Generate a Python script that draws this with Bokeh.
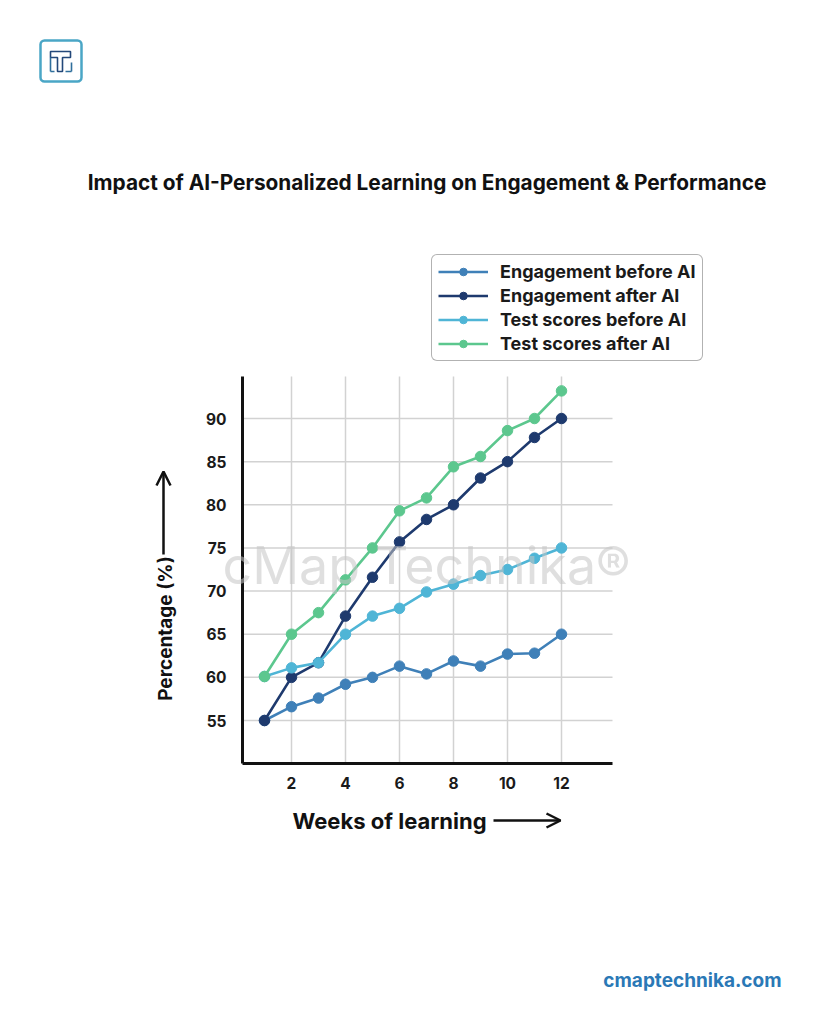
import math
from bokeh.plotting import figure
from bokeh.models import (Range1d, FixedTicker, Legend, LegendItem, Label, Arrow,
                          OpenHead, BoxAnnotation, PolyAnnotation, LinearAxis)
from bokeh.embed import file_html
from bokeh.resources import INLINE

# ---------------- data ----------------
weeks = [1, 2, 3, 4, 5, 6, 7, 8, 9, 10, 11, 12]
engagement_before = [55, 56.6, 57.6, 59.2, 60, 61.3, 60.4, 61.9, 61.3, 62.7, 62.8, 65]
engagement_after = [55, 60, 61.7, 67.1, 71.6, 75.7, 78.3, 80, 83.1, 85, 87.8, 90]
test_before = [60.1, 61.1, 61.7, 65, 67.1, 68, 69.9, 70.8, 71.8, 72.5, 73.8, 75]
test_after = [60.1, 65, 67.5, 71.3, 75, 79.3, 80.8, 84.4, 85.6, 88.6, 90, 93.2]

series_names = ["Engagement before AI", "Engagement after AI",
                "Test scores before AI", "Test scores after AI"]
series_values = [engagement_before, engagement_after, test_before, test_after]
series_colors = ["#3f80b8", "#1e3a6e", "#4fb5d6", "#5cc78e"]

x_ticks = [2, 4, 6, 8, 10, 12]
y_ticks = [55, 60, 65, 70, 75, 80, 85, 90]

title_text = "Impact  of AI-Personalized Learning on Engagement & Performance"
x_label = "Weeks of learning"
y_label = "Percentage (%)"
watermark = "cMap Technika\u00ae"
footer = "cmaptechnika.com"

FONT = "Inter"

# ---------------- layout geometry (pixels on the page) ----------------
W, H = 810, 1008
PX_PER_WEEK = 27.0
X2_PX = 291.0                      # pixel of week 2
PX_PER_PCT = 302.0 / 35.0          # 55 -> 720px, 90 -> 418px
Y55_PX = 720.0

def wk(px):      # page pixel -> week value
    return 2 + (px - X2_PX) / PX_PER_WEEK

def pct(py):     # page pixel -> percentage value
    return 55 + (Y55_PX - py) / PX_PER_PCT

x_lo, x_hi = wk(242), wk(612)      # chart box (axes extent)
y_lo, y_hi = pct(763), pct(376)

p = figure(width=W, height=H, output_backend="svg", toolbar_location=None,
           x_range=Range1d(wk(0), wk(W)), y_range=Range1d(pct(H), pct(0)),
           x_axis_location=None, y_axis_location=None,
           min_border_left=0, min_border_right=0, min_border_top=0, min_border_bottom=0)
p.outline_line_color = None
p.background_fill_color = "white"
p.border_fill_color = "white"
p.xgrid.visible = False
p.ygrid.visible = False

# axes drawn at fixed locations around the chart box
xaxis = LinearAxis(ticker=FixedTicker(ticks=x_ticks), fixed_location=y_lo, bounds=(x_lo, x_hi))
yaxis = LinearAxis(ticker=FixedTicker(ticks=y_ticks), fixed_location=x_lo, bounds=(y_lo, y_hi))
for ax in (xaxis, yaxis):
    ax.axis_line_width = 3
    ax.axis_line_color = "#111111"
    ax.major_tick_line_color = None
    ax.minor_tick_line_color = None
    ax.major_label_text_font = FONT
    ax.major_label_text_font_style = "bold"
    ax.major_label_text_font_size = "15.5px"
    ax.major_label_text_color = "#1a1a1a"
xaxis.major_label_standoff = 7
yaxis.major_label_standoff = 10
p.add_layout(xaxis, "below")
p.add_layout(yaxis, "left")

# grid lines limited to the chart box
p.segment(x0=x_ticks, y0=[y_lo] * len(x_ticks), x1=x_ticks, y1=[y_hi] * len(x_ticks),
          line_color="#d2d2d2", line_width=1.5)
p.segment(x0=[x_lo] * len(y_ticks), y0=y_ticks, x1=[x_hi] * len(y_ticks), y1=y_ticks,
          line_color="#d2d2d2", line_width=1.5)

# series
items = []
for name, vals, col in zip(series_names, series_values, series_colors):
    r1 = p.line(weeks, vals, line_color=col, line_width=2.6)
    r2 = p.scatter(weeks, vals, size=10.5, fill_color=col, line_color=col)
    items.append(LegendItem(label=name, renderers=[r1, r2]))

def sy(py):      # page pixel y -> screen units (from bottom)
    return H - py

legend = Legend(items=items, location=(431, sy(361)), orientation="vertical")
legend.label_text_font = FONT
legend.label_text_font_style = "bold"
legend.label_text_font_size = "18px"
legend.label_text_color = "#1a1a1a"
legend.glyph_width = 50
legend.glyph_height = 19
legend.label_height = 19
legend.label_standoff = 12
legend.spacing = 3
legend.padding = 6
legend.margin = 0
legend.border_line_color = "#666666"
legend.border_line_width = 1
legend.background_fill_color = "white"
legend.background_fill_alpha = 1
if "border_radius" in Legend.properties():
    legend.border_radius = 6
p.add_layout(legend)

# watermark
p.add_layout(Label(x=426, y=sy(565), x_units="screen", y_units="screen", text=watermark,
                   text_font=FONT, text_font_size="52px", text_color="#c4c4c4",
                   text_alpha=0.55, text_align="center", text_baseline="middle"))

# title
p.add_layout(Label(x=429, y=sy(182), x_units="screen", y_units="screen", text=title_text,
                   text_font=FONT, text_font_style="bold", text_font_size="20.8px",
                   text_color="#111111", text_align="center", text_baseline="middle"))

# x axis label + arrow
p.add_layout(Label(x=292, y=sy(820), x_units="screen", y_units="screen", text=x_label,
                   text_font=FONT, text_font_style="bold", text_font_size="22px",
                   text_color="#111111", text_align="left", text_baseline="middle"))
p.add_layout(Arrow(x_start=493, y_start=sy(820), x_end=560, y_end=sy(820),
                   start_units="screen", end_units="screen",
                   line_width=2.5, line_color="#111111",
                   end=OpenHead(size=14, line_width=2.5, line_color="#111111")))

# y axis label + arrow
p.add_layout(Label(x=165, y=sy(628), x_units="screen", y_units="screen", text=y_label,
                   angle=math.pi / 2,
                   text_font=FONT, text_font_style="bold", text_font_size="19px",
                   text_color="#111111", text_align="center", text_baseline="middle"))
p.add_layout(Arrow(x_start=163, y_start=sy(554), x_end=163, y_end=sy(471),
                   start_units="screen", end_units="screen",
                   line_width=2.5, line_color="#111111",
                   end=OpenHead(size=14, line_width=2.5, line_color="#111111")))

# footer
p.add_layout(Label(x=781, y=sy(980), x_units="screen", y_units="screen", text=footer,
                   text_font=FONT, text_font_style="bold", text_font_size="19px",
                   text_color="#2a78b6", text_align="right", text_baseline="middle"))

# logo
logo_box = BoxAnnotation(left=40, right=81, top=sy(40), bottom=sy(81),
                         left_units="screen", right_units="screen",
                         top_units="screen", bottom_units="screen",
                         fill_color="white", fill_alpha=1,
                         line_color="#4aa6c6", line_alpha=1, line_width=2.5)
if "border_radius" in BoxAnnotation.properties():
    logo_box.border_radius = 4
p.add_layout(logo_box)

t_pts = [(50, 51), (70, 51), (70, 57), (62, 57), (62, 71), (57, 71), (57, 57), (50, 57)]
p.add_layout(PolyAnnotation(xs=[a for a, b in t_pts], ys=[sy(b) for a, b in t_pts],
                            xs_units="screen", ys_units="screen",
                            fill_alpha=0, line_color="#23487a", line_alpha=1, line_width=1.6))
for (xa, ya), (xb, yb) in [((50, 57), (50, 71)), ((50, 71), (54, 71)),
                           ((65, 71), (71, 71)), ((71, 71), (71, 62))]:
    p.add_layout(Arrow(x_start=xa, y_start=sy(ya), x_end=xb, y_end=sy(yb),
                       start_units="screen", end_units="screen", end=None,
                       line_width=1.6, line_color="#2f6f9c"))

open("out.html", "w").write(file_html(p, INLINE))
